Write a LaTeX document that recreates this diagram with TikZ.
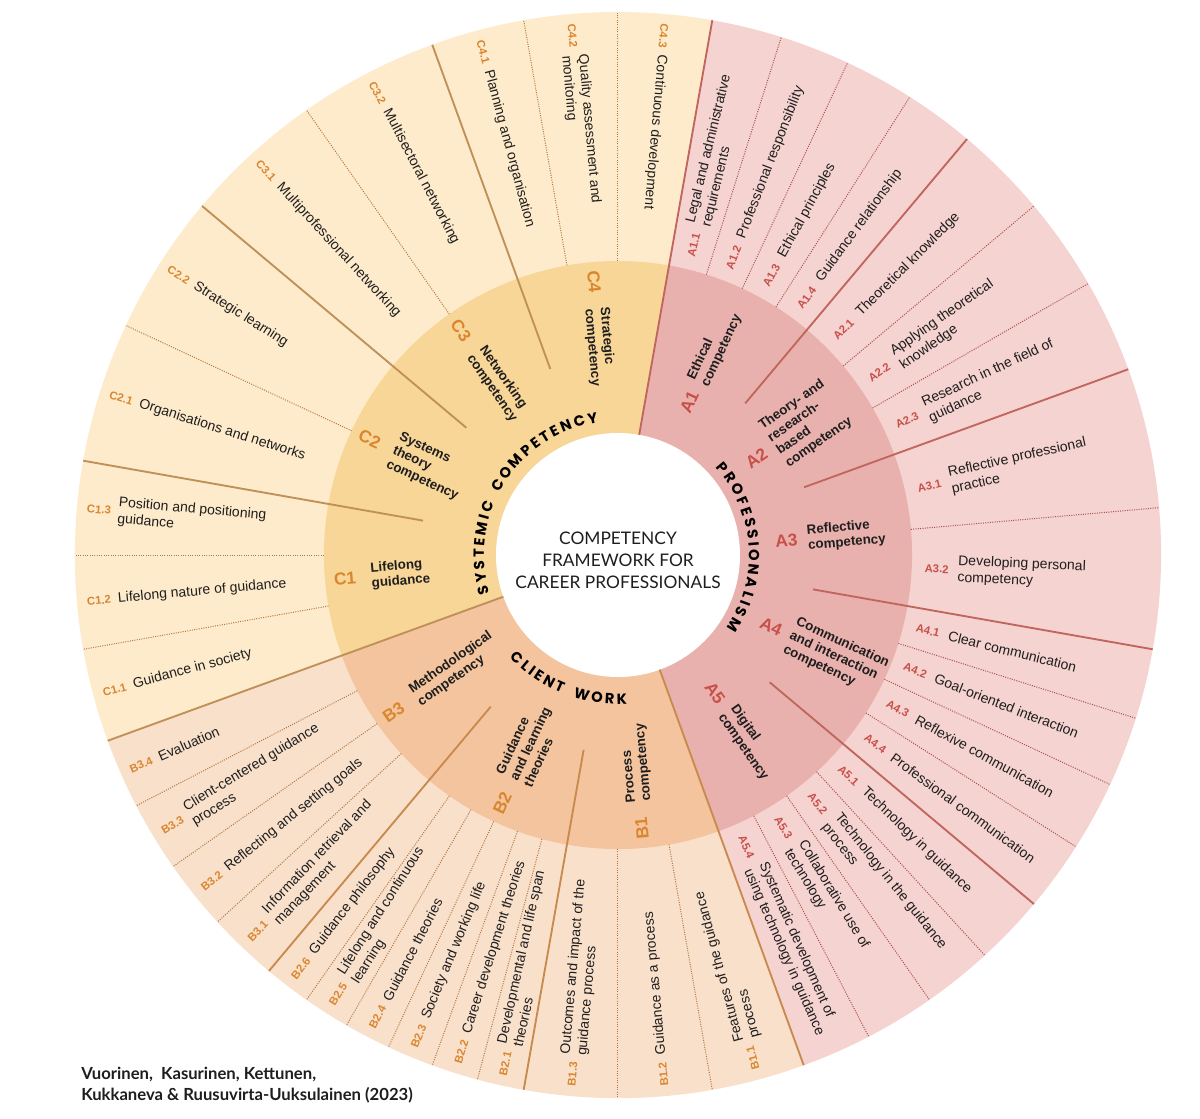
\documentclass[tikz,border=0pt]{standalone}
\usepackage{fontspec}
\setmainfont{Liberation Sans}
\newfontfamily\latofont{Lato}
\newfontfamily\titlefont{Poppins}[WordSpace=0.85]
\usepackage{tikz}
\usetikzlibrary{decorations.text}
\definecolor{aout}{HTML}{F5D3D0}
\definecolor{ain}{HTML}{E9B1AD}
\definecolor{bout}{HTML}{F9E0CB}
\definecolor{bin}{HTML}{F3C49E}
\definecolor{cout}{HTML}{FEEBCB}
\definecolor{cin}{HTML}{F8D698}
\definecolor{aline}{HTML}{C1665E}
\definecolor{bline}{HTML}{C98A4E}
\definecolor{cline}{HTML}{BF9058}
\definecolor{adot}{HTML}{A9514B}
\definecolor{bdot}{HTML}{B27840}
\definecolor{acode}{HTML}{C8504A}
\definecolor{bcode}{HTML}{D9862F}
\definecolor{ink}{HTML}{1E1E1E}
\tikzstyle{sepline}=[line width=1.4pt]
\tikzstyle{itemline}=[line width=0.75pt,densely dotted]
\tikzstyle{itemno}=[font=\bfseries\fontsize{8.5}{9}\selectfont,inner sep=0pt]
\tikzstyle{itemtext}=[font=\fontsize{10.5}{12.5}\selectfont,text=ink,align=left,anchor=west,inner sep=0pt]
\tikzstyle{compno}=[font=\bfseries\fontsize{13}{14}\selectfont,inner sep=0pt]
\tikzstyle{comptext}=[font=\bfseries\fontsize{10}{11.5}\selectfont,text=ink,align=left,anchor=west,inner sep=0pt]
\tikzstyle{ringtitle}=[decorate,decoration={text along path,text align=center}]

\begin{document}
\begin{tikzpicture}[x=0.75pt,y=0.75pt]
\fill[white] (-618,-563) rectangle (582,555);
\useasboundingbox (-618,-563) rectangle (582,555);
% rings
\fill[aout] (0,0) -- (80:543) arc[start angle=80,end angle=-70,radius=543] -- cycle;
\fill[bout] (0,0) -- (-70:543) arc[start angle=-70,end angle=-160,radius=543] -- cycle;
\fill[cout] (0,0) -- (200:543) arc[start angle=200,end angle=80,radius=543] -- cycle;
\fill[ain] (0,0) -- (80:294) arc[start angle=80,end angle=-70,radius=294] -- cycle;
\fill[bin] (0,0) -- (-70:294) arc[start angle=-70,end angle=-160,radius=294] -- cycle;
\fill[cin] (0,0) -- (200:294) arc[start angle=200,end angle=80,radius=294] -- cycle;
\fill[white] (0,0) circle[radius=122];
% separators
\foreach \a in {72.5,65,57.5,40,30,5,-17.5,-25,-32.5,-47.5,-55,-62.5}
  \draw[itemline,adot] (\a:294) -- (\a:543);
\foreach \a in {-80,-90,-105,-110,-115,-120,-125,-137.5,-145,-152.5}
  \draw[itemline,bdot] (\a:294) -- (\a:543);
\foreach \a in {190,180,155,125,100,90}
  \draw[itemline,bdot] (\a:294) -- (\a:543);
\foreach \a in {50,20,-10,-40}
  \draw[sepline,aline] (\a:198) -- (\a:543);
\foreach \a in {-100,-130}
  \draw[sepline,bline] (\a:198) -- (\a:543);
\foreach \a in {170,140,110}
  \draw[sepline,cline] (\a:198) -- (\a:543);
\draw[sepline,aline] (80:122) -- (80:543);
\draw[sepline,bline] (-70:122) -- (-70:543);
\draw[sepline,cline] (200:122) -- (200:543);
% professionalism items
\foreach \a/\c/\t [count=\i] in {76.25/A1.1/{Legal and administrative\\requirements},
  68.75/A1.2/Professional responsibility, 61.25/A1.3/Ethical principles,
  53.75/A1.4/Guidance relationship, 45/A2.1/Theoretical knowledge,
  35/A2.2/{Applying theoretical\\knowledge}, 25/A2.3/{Research in the field of\\guidance},
  12.5/A3.1/{Reflective professional\\practice}, -2.5/A3.2/{Developing personal\\competency},
  -13.75/A4.1/Clear communication, -21.25/A4.2/Goal-oriented interaction,
  -28.75/A4.3/Reflexive communication, -36.25/A4.4/Professional communication,
  -43.75/A5.1/Technology in guidance, -51.25/A5.2/{Technology in the guidance\\process},
  -58.75/A5.3/{Collaborative use of\\technology},
  -66.25/A5.4/{Systematic development of\\using technology in guidance}}{
  \node[itemno,acode,rotate=\a] (ia\i) at (\a:319) {\c};
  \node[itemtext,rotate=\a] (ta\i) at (\a:340) {\t};
}
% client work items
\foreach \a/\c/\t [count=\i] in {-75/B1.1/{Features of the guidance\\process},
  -85/B1.2/Guidance as a process, -95/B1.3/{Outcomes and impact of the\\guidance process},
  -102.5/B2.1/{Developmental and life span\\theories}, -107.5/B2.2/Career development theories,
  -112.5/B2.3/Society and working life, -117.5/B2.4/Guidance theories,
  -122.5/B2.5/{Lifelong and continuous\\learning}, -127.5/B2.6/Guidance philosophy,
  -133.75/B3.1/{Information retrieval and\\management}, -141.25/B3.2/Reflecting and setting goals,
  -148.75/B3.3/{Client-centered guidance\\process}, -156.25/B3.4/Evaluation}{
  \node[itemno,bcode,rotate=\a+180] (ib\i) at (\a:521) {\c};
  \node[itemtext,rotate=\a+180] (tb\i) at (\a:502) {\t};
}
% systemic items
\foreach \a/\c/\t [count=\i] in {195/C1.1/Guidance in society, 185/C1.2/Lifelong nature of guidance,
  175/C1.3/{Position and positioning\\guidance}, 162.5/C2.1/Organisations and networks,
  147.5/C2.2/Strategic learning, 132.5/C3.1/Multiprofessional networking,
  117.5/C3.2/Multisectoral networking, 105/C4.1/Planning and organisation,
  95/C4.2/{Quality assessment and\\monitoring}, 85/C4.3/Continuous development}{
  \node[itemno,bcode,rotate=\a+180] (ic\i) at (\a:521) {\c};
  \node[itemtext,rotate=\a+180] (tc\i) at (\a:502) {\t};
}
% competencies
\foreach \a/\c/\t [count=\i] in {65/A1/{Ethical\\competency},
  35/A2/{Theory- and\\research-\\based\\competency}, 5/A3/{Reflective\\competency},
  -25/A4/{Communication\\and interaction\\competency}, -55/A5/{Digital\\competency}}{
  \node[compno,acode,rotate=\a] (ca\i) at (\a:169) {\c};
  \node[comptext,rotate=\a] (da\i) at (\a:190) {\t};
}
\foreach \a/\c/\t [count=\i] in {-85/B1/{Process\\competency},
  -115/B2/{Guidance\\and learning\\theories}, -145/B3/{Methodological\\competency},
  185/C1/{Lifelong\\guidance}, 155/C2/{Systems\\theory\\competency},
  125/C3/{Networking\\competency}, 95/C4/{Strategic\\competency}}{
  \node[compno,bcode,rotate=\a+180] (cb\i) at (\a:274) {\c};
  \node[comptext,rotate=\a+180] (db\i) at (\a:248) {\t};
}
% domains
\path[ringtitle,decoration={text={|\titlefont\bfseries\fontsize{11}{12}\selectfont|S Y S T E M I C {\kern5pt} C O M P E T E N C Y}}]
  (215:134) arc[start angle=215,end angle=80,radius=134];
\path[ringtitle,decoration={text={|\titlefont\bfseries\fontsize{11}{12}\selectfont|P R O F E S S I O N A L I S M}}]
  (60:131) arc[start angle=60,end angle=-52,radius=131];
\path[ringtitle,decoration={text={|\titlefont\bfseries\fontsize{11}{12}\selectfont|C L I E N T {\kern5pt} W O R K}}]
  (-150:149) arc[start angle=-150,end angle=-73,radius=149];
\node[font=\latofont\fontsize{13}{16.5}\selectfont,align=center,text=ink] (core) at (0,-5)
  {COMPETENCY\\FRAMEWORK FOR\\CAREER PROFESSIONALS};
\node[font=\latofont\bfseries\fontsize{12.5}{16}\selectfont,align=left,anchor=north west,inner sep=0pt,text=ink]
  (credit) at (-537,-512) {Vuorinen,\ \ Kasurinen, Kettunen,\\Kukkaneva \& Ruusuvirta-Uuksulainen (2023)};
\end{tikzpicture}
\end{document}
